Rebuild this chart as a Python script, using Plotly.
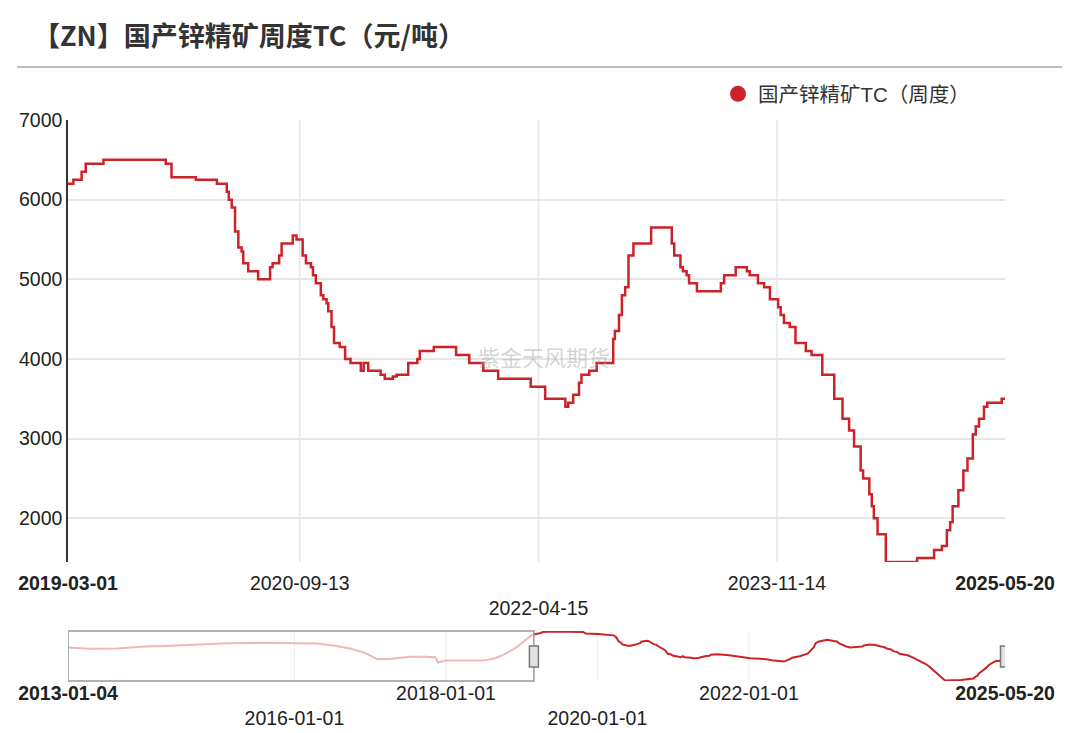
import plotly.graph_objects as go

TITLE = "【ZN】国产锌精矿周度TC（元/吨）"
SERIES_NAME = "国产锌精矿TC（周度）"
WATERMARK = "紫金天风期货"

# Weekly TC change points (value holds until the next date)
main_dates = [
    "2019-03-01", "2019-03-14", "2019-04-03", "2019-04-13", "2019-05-26", "2019-10-24",
    "2019-11-07", "2020-01-05", "2020-02-25", "2020-03-20", "2020-03-25", "2020-04-01",
    "2020-04-09", "2020-04-17", "2020-04-25", "2020-04-29", "2020-05-11", "2020-06-04",
    "2020-07-03", "2020-07-09", "2020-07-25", "2020-07-31", "2020-08-27", "2020-09-05",
    "2020-09-20", "2020-09-28", "2020-10-10", "2020-10-15", "2020-10-22", "2020-11-03",
    "2020-11-09", "2020-11-17", "2020-11-21", "2020-11-29", "2020-12-05", "2020-12-19",
    "2021-01-01", "2021-01-14", "2021-02-08", "2021-02-15", "2021-02-26", "2021-03-28",
    "2021-04-07", "2021-04-27", "2021-05-06", "2021-06-03", "2021-06-25", "2021-07-01",
    "2021-08-04", "2021-09-27", "2021-10-29", "2021-12-02", "2022-01-07", "2022-03-27",
    "2022-05-01", "2022-06-19", "2022-06-26", "2022-07-08", "2022-07-22", "2022-07-28",
    "2022-08-16", "2022-09-03", "2022-10-13", "2022-10-17", "2022-10-27", "2022-11-03",
    "2022-11-11", "2022-11-19", "2022-12-01", "2023-01-13", "2023-03-04", "2023-03-10",
    "2023-03-25", "2023-03-31", "2023-04-09", "2023-04-15", "2023-05-04", "2023-07-01",
    "2023-07-09", "2023-08-06", "2023-09-02", "2023-09-09", "2023-09-29", "2023-10-14",
    "2023-10-28", "2023-11-17", "2023-11-23", "2023-12-01", "2023-12-15", "2023-12-29",
    "2024-01-23", "2024-02-06", "2024-03-03", "2024-04-01", "2024-04-21", "2024-05-07",
    "2024-05-19", "2024-06-04", "2024-06-10", "2024-06-25", "2024-07-01", "2024-07-06",
    "2024-07-15", "2024-08-04", "2024-10-19", "2024-11-29", "2024-12-18", "2024-12-30",
    "2025-01-07", "2025-01-13", "2025-01-27", "2025-02-08", "2025-02-18", "2025-03-03",
    "2025-03-10", "2025-03-18", "2025-03-30", "2025-04-07", "2025-05-12", "2025-05-20",
]
main_values = [
    6200, 6250, 6350, 6450, 6500, 6450,
    6280, 6250, 6200, 6100, 6000, 5900,
    5600, 5400, 5350, 5200, 5100, 5000,
    5150, 5200, 5300, 5450, 5550, 5500,
    5300, 5200, 5150, 5050, 4950, 4800,
    4750, 4700, 4600, 4400, 4200, 4150,
    4000, 3950, 3850, 3950, 3850, 3800,
    3750, 3780, 3800, 3950, 4000, 4100,
    4150, 4050, 3950, 3850, 3750, 3650,
    3500, 3400, 3450, 3550, 3700, 3800,
    3850, 3950, 4250, 4350, 4550, 4800,
    4900, 5300, 5450, 5650, 5450, 5300,
    5150, 5100, 5050, 4950, 4850, 4950,
    5050, 5150, 5100, 5050, 4950, 4900,
    4750, 4650, 4550, 4450, 4400, 4200,
    4100, 4050, 3800, 3500, 3250, 3100,
    2900, 2600, 2500, 2300, 2150, 2000,
    1800, 1450, 1500, 1600, 1650, 1850,
    1950, 2150, 2350, 2600, 2750, 3050,
    3150, 3250, 3400, 3450, 3500, 3500,
]

# Earlier history, shown only in the navigator
hist_dates = [
    "2013-01-04", "2013-04-20", "2013-08-28", "2013-10-30", "2014-01-11", "2014-04-17",
    "2014-08-30", "2015-02-10", "2015-07-19", "2015-12-26", "2016-04-19", "2016-07-06",
    "2016-09-26", "2016-12-07", "2017-02-03", "2017-04-16", "2017-07-12", "2017-09-22",
    "2017-11-10", "2017-11-24", "2017-12-28", "2018-06-29", "2018-08-26", "2018-10-14",
    "2018-12-10", "2019-01-18", "2019-02-11",
]
hist_values = [
    4850, 4720, 4750, 4850, 4950, 5000,
    5150, 5300, 5330, 5300, 5250, 5050,
    4750, 4300, 3650, 3700, 3900, 3900,
    3850, 3300, 3500, 3500, 3750, 4200,
    4900, 5600, 6000,
]

main_tickvals = ["2019-03-01", "2020-09-13", "2022-04-15", "2023-11-14", "2025-05-20"]
main_ticktext = ["<b>2019-03-01</b>", "2020-09-13", "<br>2022-04-15", "2023-11-14", "<b>2025-05-20</b>"]
nav_tickvals = ["2013-01-04", "2016-01-01", "2018-01-01", "2020-01-01", "2022-01-01", "2025-05-20"]
nav_ticktext = ["<b>2013-01-04</b>", "<br>2016-01-01", "2018-01-01", "<br>2020-01-01", "2022-01-01", "<b>2025-05-20</b>"]
y_tickvals = [2000, 3000, 4000, 5000, 6000, 7000]

W, H = 1080, 733
OFF = 8  # the page body adds an 8px margin around the plot div
RED = "#cc2229"
PINK = "#f0b7b9"
GRID = "#e6e6e6"
FONT = "Liberation Sans, Noto Sans CJK SC, sans-serif"
TICK_FONT = dict(size=19.5, color="#222222")


def px_x(p):
    return (p - OFF) / W


def px_y(p):
    return 1 - (p - OFF) / H


fig = go.Figure()

fig.add_trace(go.Scatter(
    x=main_dates, y=main_values, mode="lines", name=SERIES_NAME,
    line=dict(color=RED, width=2.5, shape="hv"), showlegend=False,
    xaxis="x", yaxis="y",
))
fig.add_trace(go.Scatter(
    x=[None], y=[None], mode="markers", name=SERIES_NAME,
    marker=dict(color=RED, size=16), showlegend=True, xaxis="x", yaxis="y",
))

# navigator
fig.add_trace(go.Scatter(
    x=hist_dates + main_dates[:1], y=hist_values + main_values[:1], mode="lines",
    line=dict(color=PINK, width=2), showlegend=False, xaxis="x2", yaxis="y2",
    hoverinfo="skip",
))
fig.add_trace(go.Scatter(
    x=main_dates, y=main_values, mode="lines",
    line=dict(color=RED, width=2), showlegend=False, xaxis="x2", yaxis="y2",
    hoverinfo="skip",
))

xdom = [px_x(68), px_x(1005)]

shapes = []
for d in main_tickvals[1:-1]:
    shapes.append(dict(type="line", xref="x", yref="y domain", x0=d, x1=d, y0=0, y1=1,
                       line=dict(color=GRID, width=1.5), layer="below"))
for d in nav_tickvals[1:-1]:
    shapes.append(dict(type="line", xref="x2", yref="y2 domain", x0=d, x1=d, y0=0, y1=1,
                       line=dict(color="#eeeeee", width=1), layer="below"))
# separator under the title
shapes.append(dict(type="line", xref="paper", yref="paper", x0=px_x(17), x1=px_x(1062),
                   y0=px_y(67), y1=px_y(67), line=dict(color="#bdbdbd", width=2)))
# navigator window
shapes.append(dict(type="rect", xref="x2", yref="y2 domain", x0=hist_dates[0], x1=main_dates[0],
                   y0=0, y1=1, line=dict(color="#999999", width=1.5), fillcolor="rgba(0,0,0,0)"))
for d in (main_dates[0], main_dates[-1]):
    shapes.append(dict(type="rect", xref="x2", yref="paper", xsizemode="pixel", xanchor=d,
                       x0=-4.5, x1=4.5, y0=px_y(667), y1=px_y(646),
                       line=dict(color="#777777", width=1.5), fillcolor="#e2e2e2"))

fig.update_layout(
    template="none",
    width=W, height=H,
    margin=dict(l=0, r=0, t=0, b=0, pad=0, autoexpand=False),
    paper_bgcolor="white", plot_bgcolor="white",
    font=dict(family=FONT, size=18, color="#222222"),
    title=dict(text=TITLE, x=px_x(33), xanchor="left", y=px_y(37), yanchor="middle",
               font=dict(family="Noto Sans CJK SC", size=27, color="#333333", weight=700)),
    showlegend=True,
    legend=dict(x=px_x(718), xanchor="left", y=px_y(94), yanchor="middle",
                font=dict(size=20.5, color="#333333"), bgcolor="rgba(0,0,0,0)",
                itemclick=False, borderwidth=0, itemwidth=30),
    xaxis=dict(domain=xdom, anchor="y", type="date", automargin=False,
               range=[main_dates[0], main_dates[-1]],
               tickmode="array", tickvals=main_tickvals, ticktext=main_ticktext,
               showgrid=False, zeroline=False, showline=False, ticks="",
               tickfont=TICK_FONT, ticklabelstandoff=7),
    yaxis=dict(domain=[px_y(562), px_y(120)], anchor="x", automargin=False,
               range=[1450, 7000], tickmode="array", tickvals=y_tickvals,
               showgrid=True, gridcolor=GRID, gridwidth=1.5, zeroline=False,
               showline=True, linecolor="#333333", linewidth=1.5, ticks="",
               tickfont=TICK_FONT),
    xaxis2=dict(domain=xdom, anchor="y2", type="date", automargin=False,
                range=[hist_dates[0], main_dates[-1]],
                tickmode="array", tickvals=nav_tickvals, ticktext=nav_ticktext,
                showgrid=False, zeroline=False, showline=False, ticks="",
                tickfont=TICK_FONT, ticklabelstandoff=-2),
    yaxis2=dict(domain=[px_y(681), px_y(631)], anchor="x2", automargin=False,
                range=[1400, 6550], showgrid=False, zeroline=False,
                showticklabels=False, showline=False, ticks=""),
    shapes=shapes,
    annotations=[dict(text=WATERMARK, xref="paper", yref="paper", x=px_x(544), y=px_y(356),
                      showarrow=False, font=dict(size=22, color="rgba(160,160,160,0.45)",
                                                 family="Noto Sans CJK SC"))],
)

fig.write_html("out.html")
